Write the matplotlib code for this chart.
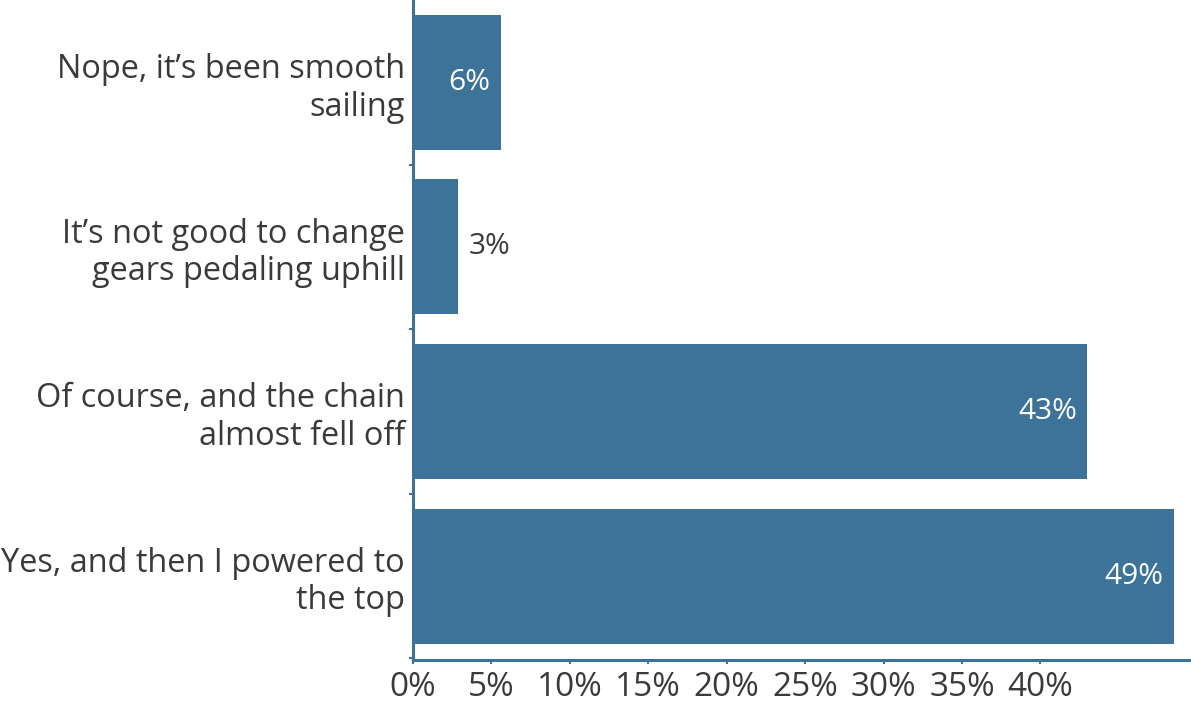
import matplotlib
matplotlib.use("Agg")
import matplotlib.pyplot as plt

categories = [
    "Nope, it\u2019s been smooth\nsailing",
    "It\u2019s not good to change\ngears pedaling uphill",
    "Of course, and the chain\nalmost fell off",
    "Yes, and then I powered to\nthe top",
]
values = [5.6, 2.9, 43.0, 48.5]
value_labels = ["6%", "3%", "43%", "49%"]
xticks = [0, 5, 10, 15, 20, 25, 30, 35, 40]
xtick_labels = ["0%", "5%", "10%", "15%", "20%", "25%", "30%", "35%", "40%"]

BLUE = "#3d7299"
GRAY = "#3a3a3a"
FONT = "Open Sans"

W, H = 1191, 704
fig = plt.figure(figsize=(W / 100, H / 100), dpi=100)
left_px, bottom_px = 413, 660
ax = fig.add_axes([left_px / W, (H - bottom_px) / H, (W - left_px) / W, bottom_px / H])

ypos = list(range(len(categories)))
ax.barh(ypos, values, height=0.82, color=BLUE, zorder=2)
ax.set_xlim(0, (W - left_px) / 15.686)
ax.set_ylim(3.51, -0.5)

for y, v, lab in zip(ypos, values, value_labels):
    if v > 4:
        ax.text(v - 0.65, y, lab, ha="right", va="center", color="white",
                fontsize=21.5, family=FONT)
    else:
        ax.text(v + 0.65, y, lab, ha="left", va="center", color=GRAY,
                fontsize=21.5, family=FONT)

for s in ["top", "right"]:
    ax.spines[s].set_visible(False)
for s in ["left", "bottom"]:
    ax.spines[s].set_color(BLUE)
    ax.spines[s].set_linewidth(2.2)

ax.set_xticks(xticks)
ax.set_xticklabels(xtick_labels, family=FONT, fontsize=24, color=GRAY)
ax.tick_params(axis="x", length=3, width=1.5, color=BLUE, pad=5)

ax.set_yticks(ypos)
ax.set_yticklabels(categories, family=FONT, fontsize=23.4, color=GRAY,
                   linespacing=1.17)
ax.tick_params(axis="y", which="major", length=0, pad=6)
ax.set_yticks([0.5, 1.5, 2.5, 3.5], minor=True)
ax.tick_params(axis="y", which="minor", length=3, width=1.5, color=BLUE)

fig.savefig("out.png", dpi=100)
